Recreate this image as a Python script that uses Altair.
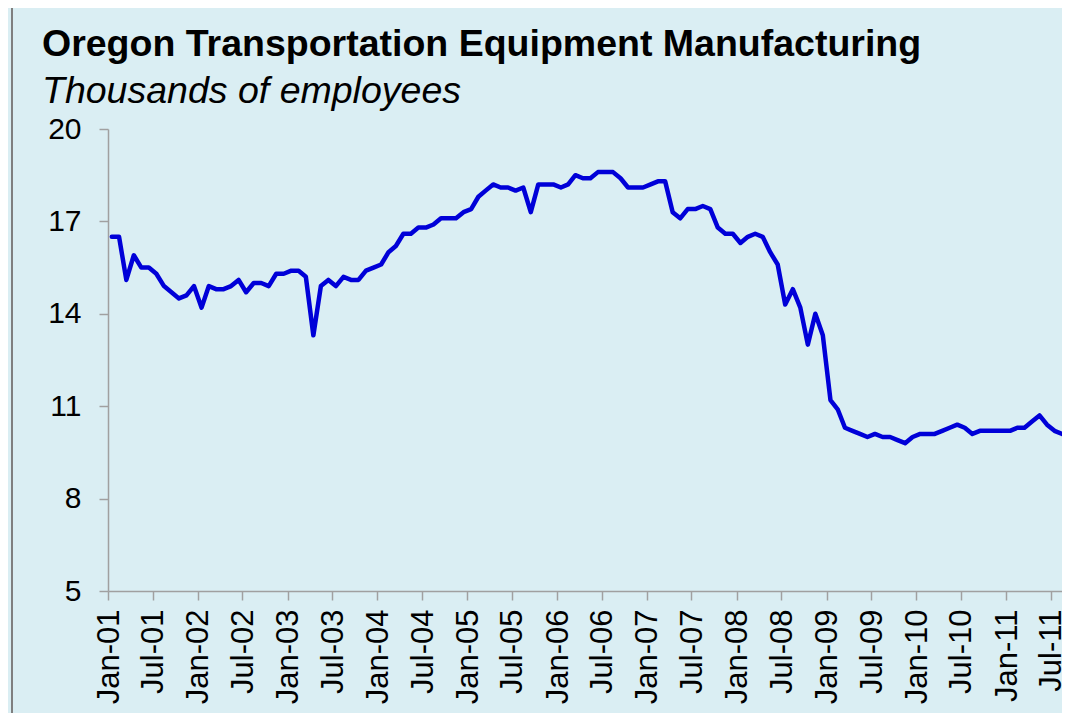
import altair as alt
import pandas as pd

# Monthly employment, thousands (Jan 2001 - Aug 2011)
values = [
    16.5, 16.5, 15.1, 15.9, 15.5, 15.5, 15.3, 14.9, 14.7, 14.5, 14.6, 14.9,  # 2001
    14.2, 14.9, 14.8, 14.8, 14.9, 15.1, 14.7, 15.0, 15.0, 14.9, 15.3, 15.3,  # 2002
    15.4, 15.4, 15.2, 13.3, 14.9, 15.1, 14.9, 15.2, 15.1, 15.1, 15.4, 15.5,  # 2003
    15.6, 16.0, 16.2, 16.6, 16.6, 16.8, 16.8, 16.9, 17.1, 17.1, 17.1, 17.3,  # 2004
    17.4, 17.8, 18.0, 18.2, 18.1, 18.1, 18.0, 18.1, 17.3, 18.2, 18.2, 18.2,  # 2005
    18.1, 18.2, 18.5, 18.4, 18.4, 18.6, 18.6, 18.6, 18.4, 18.1, 18.1, 18.1,  # 2006
    18.2, 18.3, 18.3, 17.3, 17.1, 17.4, 17.4, 17.5, 17.4, 16.8, 16.6, 16.6,  # 2007
    16.3, 16.5, 16.6, 16.5, 16.0, 15.6, 14.3, 14.8, 14.2, 13.0, 14.0, 13.3,  # 2008
    11.2, 10.9, 10.3, 10.2, 10.1, 10.0, 10.1, 10.0, 10.0, 9.9, 9.8, 10.0,    # 2009
    10.1, 10.1, 10.1, 10.2, 10.3, 10.4, 10.3, 10.1, 10.2, 10.2, 10.2, 10.2,  # 2010
    10.2, 10.3, 10.3, 10.5, 10.7, 10.4, 10.2, 10.1,                          # 2011
]
months = pd.date_range("2001-01-01", periods=len(values), freq="MS").strftime("%Y-%m-%d").tolist()

y_ticks = [5, 8, 11, 14, 17, 20]
x_tick_years = list(range(2001, 2012))
x_tick_months = [1, 7]

title_text = "Oregon Transportation Equipment Manufacturing"
subtitle_text = "Thousands of employees"

df = pd.DataFrame({"month": months, "value": values})

x_ticks = [
    alt.DateTime(year=y, month=m, date=1, utc=True)
    for y in x_tick_years for m in x_tick_months
    if not (y == 2011 and m > 7)
]

FONT = "Liberation Sans"
AXIS_GRAY = "#a0a0a0"

line = alt.Chart(df).mark_line(color="#0000d8", strokeWidth=4.5, strokeJoin="round", strokeCap="round").encode(
    x=alt.X(
        "month:T",
        timeUnit="utcyearmonth",
        bandPosition=0.5,
        title=None,
        scale=alt.Scale(domain=[
            alt.DateTime(year=2001, month=1, date=1, utc=True),
            alt.DateTime(year=2011, month=8, date=16, utc=True),
        ]),
        axis=alt.Axis(
            values=x_ticks,
            format="%b-%y",
            labelAngle=270,
            labelPadding=9,
            labelOffset=1,
            tickSize=9,
            grid=False,
            labelFontSize=31,
            labelFont=FONT,
            labelColor="#000000",
            domainColor=AXIS_GRAY,
            tickColor=AXIS_GRAY,
            domainWidth=1.5,
            tickWidth=1.5,
            labelOverlap=False,
            labelBound=False,
        ),
    ),
    y=alt.Y(
        "value:Q",
        title=None,
        scale=alt.Scale(domain=[5, 20], nice=False, zero=False),
        axis=alt.Axis(
            values=y_ticks,
            tickSize=9,
            labelPadding=18,
            grid=False,
            labelFontSize=30,
            labelFont=FONT,
            labelColor="#000000",
            domainColor=AXIS_GRAY,
            tickColor=AXIS_GRAY,
            domainWidth=1.5,
            tickWidth=1.5,
        ),
    ),
)

frame = alt.Chart(df).mark_rule(color="#7f7f7f", strokeWidth=2).encode(
    x=alt.value(-96), y=alt.value(-121), y2=alt.value(600)
)

chart = alt.layer(frame, line).properties(
    width=954,
    height=462,
    autosize=alt.AutoSizeParams(type="none"),
    padding={"left": 100, "top": 121, "right": 0, "bottom": 122},
    background="#DAEEF3",
    title=alt.TitleParams(
        text=title_text,
        subtitle=subtitle_text,
        anchor="start",
        frame="group",
        dx=-66,
        offset=-103,
        font=FONT,
        fontSize=37.5,
        fontWeight="bold",
        color="#000000",
        subtitleFont=FONT,
        subtitleFontSize=37.5,
        subtitleFontStyle="italic",
        subtitleColor="#000000",
        subtitlePadding=9,
    ),
).configure_view(stroke=None)

chart.save("out.html", embed_options={"renderer": "svg", "actions": False})
